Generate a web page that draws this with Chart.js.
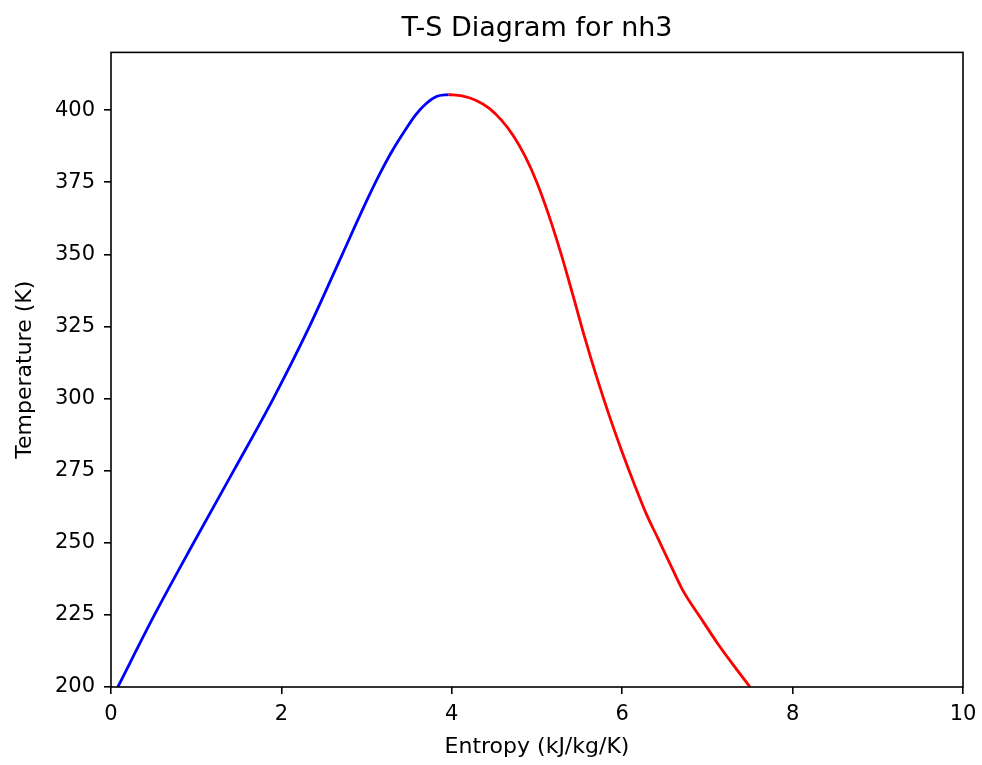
<!DOCTYPE html>
<html>
<head>
<meta charset="utf-8">
<script src="https://cdn.jsdelivr.net/npm/chart.js@4.4.1/dist/chart.umd.min.js"></script>
<style>
  html, body { margin: 0; padding: 0; background: #fff; }
  canvas { display: block; }
</style>
</head>
<body>
<canvas id="tsChart" width="982" height="765"></canvas>
<script>
// saturated liquid line (blue)
var liquidS = [0.08, 0.51, 0.97, 1.44, 1.905, 2.33, 2.715, 3.00, 3.15, 3.30, 3.45, 3.58, 3.70, 3.82, 3.96];
var liquidT = [200, 225, 250, 275, 300, 325, 350, 368.5, 377.6, 385.8, 392.9, 398.5, 402.3, 404.7, 405.4];
// saturated vapour line (red)
var vaporS = [3.96, 4.12, 4.28, 4.44, 4.58, 4.72, 4.86, 5.00, 5.14, 5.28, 5.42, 5.56, 5.70, 5.85, 6.00, 6.14, 6.28, 6.42, 6.56, 6.71, 6.92, 7.12, 7.31, 7.50];
var vaporT = [405.4, 404.9, 403.4, 400.6, 396.6, 391.2, 384.0, 374.8, 363.4, 350.4, 336.0, 321.2, 307.5, 293.9, 281.4, 270.5, 260.2, 251.5, 242.8, 233.6, 224.0, 215.1, 207.4, 200];

var xTicks = [0, 2, 4, 6, 8, 10];
var yTicks = [200, 225, 250, 275, 300, 325, 350, 375, 400];

function toPoints(xs, ys) {
    return xs.map(function (x, i) { return { x: x, y: ys[i] }; });
}

var FONT = "'DejaVu Sans', sans-serif";

// matplotlib style box around the plot area
var boxPlugin = {
    id: "box",
    afterDraw: function (chart) {
        var a = chart.chartArea;
        var ctx = chart.ctx;
        ctx.save();
        ctx.strokeStyle = "#000";
        ctx.lineWidth = 1.6;
        ctx.strokeRect(a.left, a.top, a.right - a.left, a.bottom - a.top);
        ctx.restore();
    }
};

var ctx = document.getElementById("tsChart").getContext("2d");
var myChart = new Chart(ctx, {
    type: "scatter",
    data: {
        datasets: [{
            data: toPoints(liquidS, liquidT),
            borderColor: "#0000ff",
            borderWidth: 2.8,
            showLine: true,
            pointRadius: 0,
            cubicInterpolationMode: "monotone",
        }, {
            data: toPoints(vaporS, vaporT),
            borderColor: "#ff0000",
            borderWidth: 2.8,
            showLine: true,
            pointRadius: 0,
            cubicInterpolationMode: "monotone",
        }],
    },
    options: {
        responsive: false,
        animation: false,
        devicePixelRatio: 1,
        layout: { padding: { left: 0, right: 19, top: 0, bottom: 0 } },
        plugins: {
            legend: { display: false },
            tooltip: { enabled: false },
            title: {
                display: true,
                fullSize: false,
                text: "T-S Diagram for nh3",
                color: "#000",
                font: { family: FONT, size: 27, weight: "normal" },
                padding: { top: 13, bottom: 7 },
            },
        },
        scales: {
            x: {
                type: "linear",
                min: 0,
                max: 10,
                afterBuildTicks: function (scale) {
                    scale.ticks = xTicks.map(function (v) { return { value: v }; });
                },
                afterFit: function (scale) {
                    scale.height = 78;
                    scale.paddingLeft = 0;
                    scale.paddingRight = 0;
                },
                grid: { display: true, drawOnChartArea: false, drawTicks: true, tickLength: 7, color: "#000", lineWidth: 1.6 },
                border: { display: false },
                ticks: { color: "#000", font: { family: FONT, size: 21 }, padding: 8, maxRotation: 0 },
                title: {
                    display: true,
                    text: "Entropy (kJ/kg/K)",
                    color: "#000",
                    font: { family: FONT, size: 22 },
                    padding: { top: 0, bottom: 5 },
                },
            },
            y: {
                type: "linear",
                min: 200,
                max: 420,
                afterBuildTicks: function (scale) {
                    scale.ticks = yTicks.map(function (v) { return { value: v }; });
                },
                afterFit: function (scale) {
                    scale.width = 111;
                    scale.paddingTop = 0;
                    scale.paddingBottom = 0;
                },
                grid: { display: true, drawOnChartArea: false, drawTicks: true, tickLength: 7, color: "#000", lineWidth: 1.6 },
                border: { display: false },
                ticks: { color: "#000", font: { family: FONT, size: 21 }, padding: 9 },
                title: {
                    display: true,
                    text: "Temperature (K)",
                    color: "#000",
                    font: { family: FONT, size: 22 },
                    padding: { top: 12, bottom: 0 },
                },
            },
        },
    },
    plugins: [boxPlugin],
});
</script>
</body>
</html>
